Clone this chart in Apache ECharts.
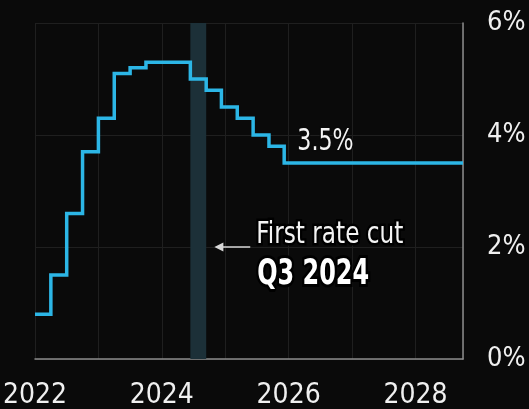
<!DOCTYPE html>
<html>
<head>
<meta charset="utf-8">
<script src="https://cdn.jsdelivr.net/npm/echarts@6/dist/echarts.min.js"></script>
<style>
html,body{margin:0;padding:0;background:#0a0a0a;}
#c{width:529px;height:409px;}
</style>
</head>
<body>
<div id="c"></div>
<script>
// Data
const stepStarts = [2022, 2022.25, 2022.5, 2022.75, 2023, 2023.25, 2023.5, 2023.75, 2024.45, 2024.7, 2024.94, 2025.19, 2025.44, 2025.69, 2025.93, 2028.75];
const rates      = [0.8, 1.5, 2.6, 3.7, 4.3, 5.1, 5.2, 5.3, 5.0, 4.8, 4.5, 4.3, 4.0, 3.8, 3.5, 3.5];
const xLabelYears = [2022, 2024, 2026, 2028];
const yTicks = [0, 2, 4, 6];
const cutBand = [2024.45, 2024.7];
const finalRateLabel = '3.5%';
const noteLine1 = 'First rate cut';
const noteLine2 = 'Q3 2024';

const FONT = "'Liberation Sans Narrow','DejaVu Sans Condensed','Arial Narrow',sans-serif";

const chart = echarts.init(document.getElementById('c'), null, {renderer: 'canvas'});

const seriesData = stepStarts.map((x, i) => [x, rates[i]]);

chart.setOption({
  backgroundColor: '#0a0a0a',
  animation: false,
  grid: {left: 35, right: 66, top: 23, bottom: 50, containLabel: false, outerBoundsMode: 'none'},
  xAxis: {
    type: 'value',
    min: 2022, max: 2028.75, interval: 1,
    axisLine: {show: true, lineStyle: {color: '#8c8c8c', width: 1.5}},
    axisTick: {show: false},
    splitLine: {show: true, lineStyle: {color: '#1f1f1f', width: 1}},
    axisLabel: {
      color: '#f0f0f0', fontFamily: FONT, fontSize: 28, margin: 23,
      formatter: v => xLabelYears.includes(v) ? String(v) : ''
    }
  },
  yAxis: {
    type: 'value', position: 'right',
    min: yTicks[0], max: yTicks[yTicks.length - 1], interval: 2,
    axisLine: {show: true, lineStyle: {color: '#8c8c8c', width: 1.5}},
    axisTick: {show: false},
    splitLine: {show: true, lineStyle: {color: '#1f1f1f', width: 1}},
    axisLabel: {color: '#f0f0f0', fontFamily: FONT, fontSize: 27, margin: 24,
      formatter: v => v + '%'}
  },
  series: [{
    type: 'line',
    step: 'end',
    data: seriesData,
    symbol: 'none',
    lineStyle: {color: '#2cb6e6', width: 3.5, join: 'miter'},
    z: 5,
    markArea: {
      silent: true,
      itemStyle: {color: '#1c3038'},
      data: [[{xAxis: cutBand[0]}, {xAxis: cutBand[1]}]]
    },
    markLine: {
      silent: true,
      symbol: ['none', 'triangle'],
      symbolSize: [9, 9],
      label: {show: false},
      lineStyle: {color: '#d8d8d8', width: 1.5, type: 'solid'},
      data: [[{coord: [2025.395, 2.0]}, {coord: [2024.9, 2.0]}]]
    }
  }]
});

function px(x, y) { return chart.convertToPixel({gridIndex: 0}, [x, y]); }

const p1 = px(2026.137, 3.88);
const p2 = px(2025.49, 2.205);
const p3 = px(2025.505, 1.505);

chart.setOption({
  graphic: [
    {type: 'text', x: p1[0], y: p1[1], z: 10, scaleX: 0.82,
      style: {text: finalRateLabel, fill: '#f4f4f4', font: '30px ' + FONT, textVerticalAlign: 'middle', textAlign: 'left',
        stroke: '#0a0a0a', lineWidth: 3}},
    {type: 'text', x: p2[0], y: p2[1], z: 10, scaleX: 0.86,
      style: {text: noteLine1, fill: '#f4f4f4', font: '30px ' + FONT, textVerticalAlign: 'middle', textAlign: 'left',
        stroke: '#000', lineWidth: 5}},
    {type: 'text', x: p3[0], y: p3[1], z: 10, scaleX: 0.76,
      style: {text: noteLine2, fill: '#ffffff', font: 'bold 35px ' + FONT, textVerticalAlign: 'middle', textAlign: 'left',
        stroke: '#000', lineWidth: 6}}
  ]
});
</script>
</body>
</html>
